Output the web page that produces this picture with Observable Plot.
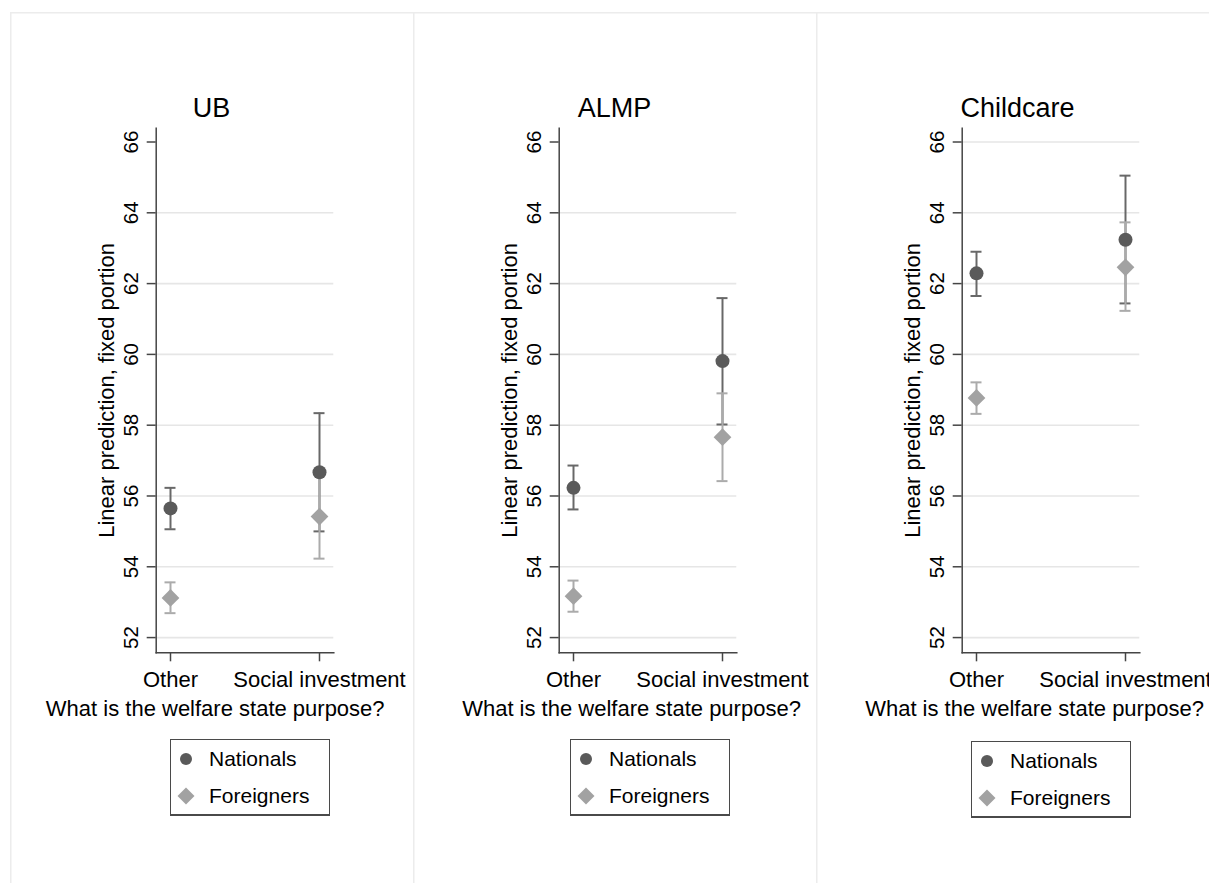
<!DOCTYPE html>
<html>
<head>
<meta charset="utf-8">
<script src="https://cdn.jsdelivr.net/npm/d3@7"></script>
<script src="https://cdn.jsdelivr.net/npm/@observablehq/plot@0.6"></script>
<style>
  html, body { margin: 0; padding: 0; background: #fff; }
  body {
    width: 1209px; height: 883px; overflow: hidden; position: relative;
    font-family: "Liberation Sans", Arial, sans-serif; color: #000;
  }
  .panel {
    position: absolute; top: 12px; width: 403px; height: 880px;
    box-shadow: inset 1.5px 1.5px 0 #ececec;
  }
  .panel svg { position: absolute; left: 0; top: 0; }
  .panel-title {
    position: absolute; left: 0; width: 403px; top: 83px;
    text-align: center; font-size: 27px; line-height: 27px;
  }
  .legend {
    position: absolute; width: 160px; height: 77px; box-sizing: border-box;
    border: 1.5px solid #4a4a4a; border-bottom-width: 2.5px; background: #fff;
  }
  .legend .row {
    position: absolute; left: 0; height: 30px; display: flex; align-items: center;
    font-size: 21px;
  }
  .legend .row svg { position: absolute; left: 5px; top: 5px; }
  .legend .row span { position: absolute; left: 38px; white-space: nowrap; line-height: 30px; top: 0; }
</style>
</head>
<body>
<script>
// Predicted welfare-state support (linear prediction, fixed portion) with 95% CIs
const programmes = ["UB", "ALMP", "Childcare"];
const categories = ["Other", "Social investment"];
const series = ["Nationals", "Foreigners"];
const yTicks = [52, 54, 56, 58, 60, 62, 64, 66];
const xTitle = "What is the welfare state purpose?";
const yTitle = "Linear prediction, fixed portion";

// UB
const ubNationals = [55.65, 56.67];
const ubNationalsLo = [55.06, 55.00];
const ubNationalsHi = [56.23, 58.34];
const ubForeigners = [53.12, 55.42];
const ubForeignersLo = [52.69, 54.23];
const ubForeignersHi = [53.56, 56.61];

// ALMP
const almpNationals = [56.23, 59.81];
const almpNationalsLo = [55.62, 58.02];
const almpNationalsHi = [56.86, 61.59];
const almpForeigners = [53.17, 57.66];
const almpForeignersLo = [52.73, 56.42];
const almpForeignersHi = [53.61, 58.90];

// Childcare
const ccNationals = [62.29, 63.24];
const ccNationalsLo = [61.65, 61.44];
const ccNationalsHi = [62.90, 65.05];
const ccForeigners = [58.77, 62.46];
const ccForeignersLo = [58.32, 61.23];
const ccForeignersHi = [59.21, 63.73];

const estimates = {
  UB: {
    Nationals: [ubNationals, ubNationalsLo, ubNationalsHi],
    Foreigners: [ubForeigners, ubForeignersLo, ubForeignersHi]
  },
  ALMP: {
    Nationals: [almpNationals, almpNationalsLo, almpNationalsHi],
    Foreigners: [almpForeigners, almpForeignersLo, almpForeignersHi]
  },
  Childcare: {
    Nationals: [ccNationals, ccNationalsLo, ccNationalsHi],
    Foreigners: [ccForeigners, ccForeignersLo, ccForeignersHi]
  }
};

// Panel geometry
const panelLayout = [
  {left: 10,  axisTitleDx: -29.8, legendLeft: 160, legendTop: 727, gridMax: 64},
  {left: 413, axisTitleDx: -16.5, legendLeft: 157, legendTop: 727, gridMax: 64},
  {left: 816, axisTitleDx: -16.5, legendLeft: 155, legendTop: 729, gridMax: 66}
];

const seriesStyle = {
  Nationals:  {marker: "#5a5a5a", ci: "#686868", symbol: "circle",   r: 7},
  Foreigners: {marker: "#a2a2a2", ci: "#ababab", symbol: "diamond2", r: 8}
};
const axisInk = "#454545";

function rowsFor(programme, s) {
  const [est, lo, hi] = estimates[programme][s];
  return categories.map((cat, i) => ({cat, est: est[i], lo: lo[i], hi: hi[i]}));
}

function legendSymbol(s) {
  const st = seriesStyle[s];
  if (st.symbol === "circle") {
    return `<svg width="20" height="20"><circle cx="10" cy="10" r="6" fill="${st.marker}"/></svg>`;
  }
  return `<svg width="20" height="20"><path d="M10,1.5L18.5,10L10,18.5L1.5,10Z" fill="${st.marker}"/></svg>`;
}

programmes.forEach((programme, k) => {
  const lay = panelLayout[k];
  const panel = document.createElement("div");
  panel.className = "panel";
  panel.style.left = lay.left + "px";

  const title = document.createElement("div");
  title.className = "panel-title";
  title.textContent = programme;

  const ciMarks = [];
  const dotMarks = [];
  for (const s of series) {
    const st = seriesStyle[s];
    const rows = rowsFor(programme, s);
    ciMarks.push(
      Plot.ruleX(rows, {x: "cat", y1: "lo", y2: "hi", stroke: st.ci, strokeWidth: 2}),
      Plot.ruleY(rows, {y: "lo", x1: "cat", x2: "cat", insetLeft: -5.5, insetRight: -5.5, stroke: st.ci, strokeWidth: 2}),
      Plot.ruleY(rows, {y: "hi", x1: "cat", x2: "cat", insetLeft: -5.5, insetRight: -5.5, stroke: st.ci, strokeWidth: 2})
    );
    dotMarks.push(
      Plot.dot(rows, {x: "cat", y: "est", r: st.r, symbol: st.symbol, fill: st.marker, stroke: "none"})
    );
  }

  const chart = Plot.plot({
    width: 403,
    height: 720,
    marginTop: 115.7,
    marginBottom: 79.7,
    marginLeft: 145.7,
    marginRight: 79.7,
    x: {type: "point", domain: categories, padding: 0.0955},
    y: {domain: [51.57, 66.39]},
    style: {
      fontFamily: '"Liberation Sans", Arial, sans-serif',
      background: "transparent",
      color: "#000",
      overflow: "visible"
    },
    marks: [
      Plot.gridY(yTicks.filter(t => t <= lay.gridMax), {stroke: "#e6e6e6", strokeOpacity: 1, strokeWidth: 1.6}),
      Plot.axisY(yTicks, {
        tickSize: 9, tickPadding: 9.5, tickRotate: -90, fontSize: 20.5,
        stroke: axisInk, strokeWidth: 1.5, fill: "#000", label: null
      }),
      Plot.axisX({
        tickSize: 9, tickPadding: 10, fontSize: 22,
        stroke: axisInk, strokeWidth: 1.5, fill: "#000", label: null
      }),
      Plot.frame({anchor: "left", stroke: axisInk, strokeWidth: 1.5}),
      Plot.frame({anchor: "bottom", stroke: axisInk, strokeWidth: 1.5}),
      Plot.text([yTitle], {
        frameAnchor: "left", textAnchor: "middle", rotate: -90, lineAnchor: "top",
        dx: -57.7, fontSize: 22, fill: "#000"
      }),
      Plot.text([xTitle], {frameAnchor: "bottom", lineAnchor: "bottom", dx: lay.axisTitleDx, dy: 62.7, fontSize: 22, fill: "#000"}),
      ...ciMarks,
      ...dotMarks
    ]
  });

  const legend = document.createElement("div");
  legend.className = "legend";
  legend.style.left = lay.legendLeft + "px";
  legend.style.top = lay.legendTop + "px";
  legend.innerHTML = series.map((s, i) =>
    `<div class="row" style="top:${i === 0 ? 4 : 41}px">${legendSymbol(s)}<span>${s}</span></div>`
  ).join("");

  panel.appendChild(chart);
  panel.appendChild(title);
  panel.appendChild(legend);
  document.body.appendChild(panel);
});
</script>
</body>
</html>
